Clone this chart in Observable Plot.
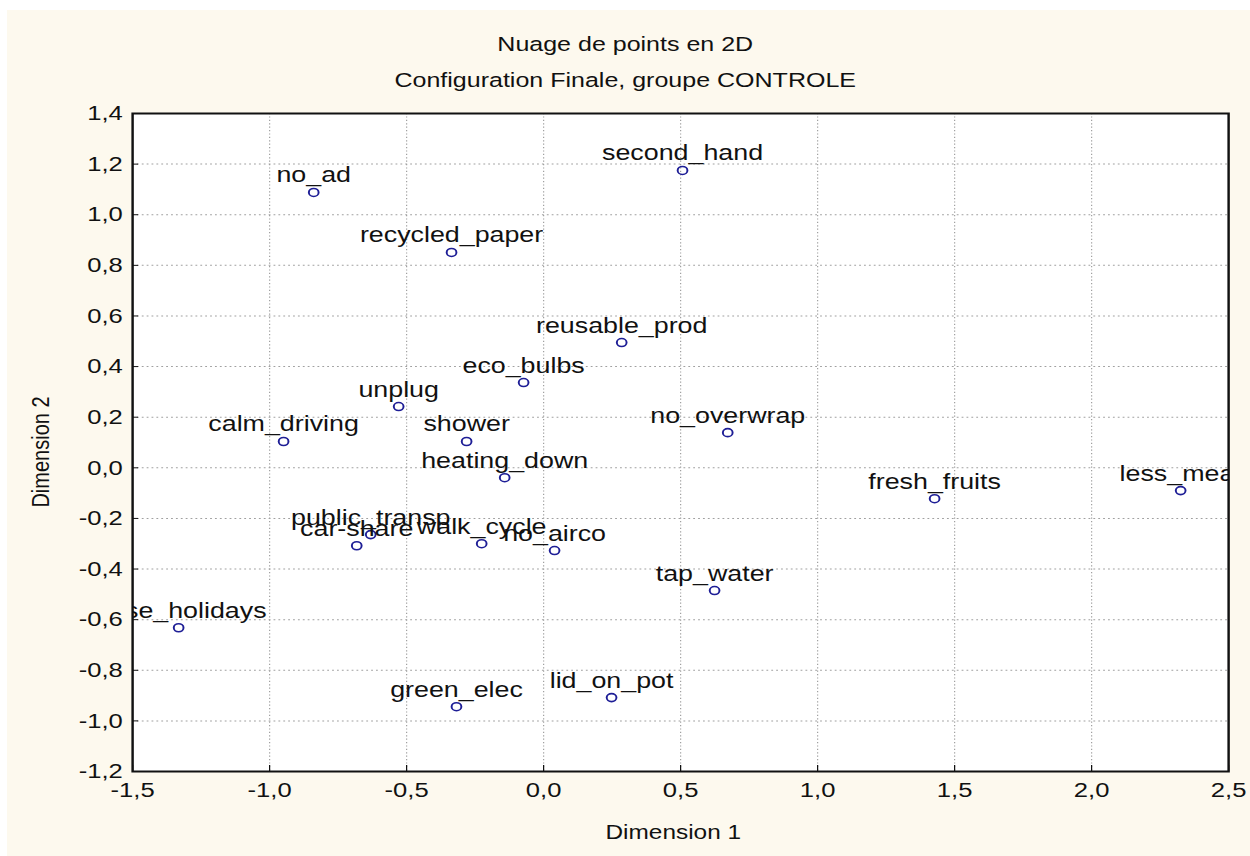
<!DOCTYPE html>
<html><head><meta charset="utf-8">
<script src="https://cdn.jsdelivr.net/npm/d3@7"></script>
<script src="https://cdn.jsdelivr.net/npm/@observablehq/plot@0.6"></script>
<style>
body{margin:0;background:#fff;width:1250px;height:856px;overflow:hidden;position:relative;font-family:"Liberation Sans",Arial,sans-serif;}
#bg{position:absolute;left:7px;top:10px;right:0;bottom:0;background:#fdf9ee;}
#stage{position:absolute;left:0;top:0;width:1025px;height:856px;transform:scaleX(1.22);transform-origin:0 0;}
#stage svg{position:absolute;left:0;top:0;}
.t{position:absolute;left:0;width:1025px;text-align:center;font-size:20.5px;color:#111;line-height:22px;}
#ylab{position:absolute;left:-67px;top:441px;width:200px;height:22px;line-height:22px;text-align:center;font-size:20px;color:#111;transform:rotate(-90deg);transform-origin:50% 50%;}
</style></head><body>
<div id="bg"></div>
<div id="stage">
 <div class="t" style="top:33px">Nuage de points en 2D</div>
 <div class="t" style="top:69px">Configuration Finale, groupe CONTROLE</div>
 <div id="ylab">Dimension 2</div>
</div>
<script>
const labels = ["no_ad","second_hand","recycled_paper","reusable_prod","eco_bulbs","unplug","calm_driving","shower","no_overwrap","heating_down","fresh_fruits","less_meat","car-share","public_transp","walk_cycle","no_airco","tap_water","close_holidays","green_elec","lid_on_pot"];
const dim1 = [-0.839,0.507,-0.336,0.285,-0.073,-0.529,-0.949,-0.281,0.672,-0.142,1.427,2.325,-0.682,-0.631,-0.226,0.040,0.624,-1.332,-0.318,0.248];
const dim2 = [1.088,1.175,0.851,0.495,0.337,0.242,0.104,0.104,0.139,-0.039,-0.122,-0.090,-0.308,-0.264,-0.300,-0.327,-0.485,-0.632,-0.944,-0.908];
const xTicks = [-1.5,-1.0,-0.5,0.0,0.5,1.0,1.5,2.0,2.5];
const yTicks = [1.4,1.2,1.0,0.8,0.6,0.4,0.2,0.0,-0.2,-0.4,-0.6,-0.8,-1.0,-1.2];

const S = 1.22;
const W = 1025;
const data = labels.map((label, i) => ({label, d1: dim1[i], d2: dim2[i]}));
const fmt = d => d.toFixed(1).replace(".", ",");
const font = "Liberation Sans, Arial, sans-serif";

const chart = Plot.plot({
  width: W, height: 856,
  marginLeft: 132 / S, marginRight: W - 1228 / S, marginTop: 113, marginBottom: 85,
  style: {background: "transparent", fontFamily: font, color: "#111", overflow: "visible"},
  x: {domain: [-1.5, 2.5], label: null},
  y: {domain: [-1.2, 1.4], label: null},
  marks: [
    Plot.frame({fill: "white"}),
    Plot.gridX(xTicks.slice(1, -1), {stroke: "#a0a0a0", strokeOpacity: 1, strokeDasharray: "1.2,2.2"}),
    Plot.gridY(yTicks.slice(1, -1), {stroke: "#a0a0a0", strokeOpacity: 1, strokeDasharray: "1.5,2.5"}),
    Plot.axisX(xTicks, {tickSize: -6, tickPadding: 17, tickFormat: fmt, fontSize: 21, label: null}),
    Plot.axisY(yTicks, {tickSize: -5, tickPadding: 13, tickFormat: fmt, fontSize: 21, label: null}),
    Plot.dot(data, {x: "d1", y: "d2", r: 4, stroke: "#1e1e96", strokeWidth: 1.6}),
    Plot.text(data, {x: "d1", y: "d2", text: "label", dy: -10, lineAnchor: "bottom", fontSize: 22, fill: "#111", clip: true}),
    Plot.text(["Dimension 1"], {text: d => d, frameAnchor: "bottom", dx: -6, dy: 67, fontSize: 20}),
    Plot.frame({stroke: "#111", strokeWidth: 2})
  ]
});
document.getElementById("stage").appendChild(chart);
</script>
</body></html>
